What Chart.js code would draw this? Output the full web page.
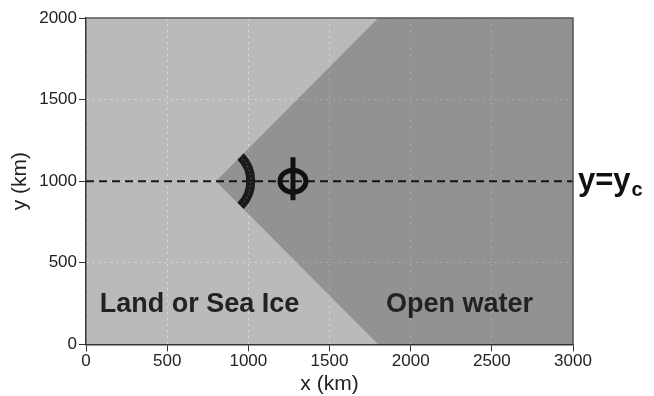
<!DOCTYPE html>
<html>
<head>
<meta charset="utf-8">
<script src="https://cdn.jsdelivr.net/npm/chart.js@4.4.0/dist/chart.umd.min.js"></script>
<style>
  body { margin: 0; background: #fff; }
  #wrap { width: 654px; height: 396px; }
</style>
</head>
<body>
<div id="wrap"><canvas id="domain" width="654" height="396"></canvas></div>
<script>
// axis ticks (km)
var xTicks = [0, 500, 1000, 1500, 2000, 2500, 3000];
var yTicks = [0, 500, 1000, 1500, 2000];

// open water wedge outline
var waterX = [3000, 1800, 800, 1800, 3000];
var waterY = [0, 0, 1000, 2000, 2000];

// y = yc line
var yc = 1000;
var lineX = [0, 3000];

// arc at the ice edge tip, and phi marker
var arcCenter = [800, 1000];
var arcRadius = 215;
var arcSpanDeg = 45;
var phiX = 1275;

// region labels
var labelText = ['Land or Sea Ice', 'Open water'];
var labelX = [699, 2301];
var labelY = [245, 245];

var FONT = "'Liberation Sans', Arial, sans-serif";

var deco = {
    id: 'deco',
    beforeDraw: function(chart) {
        var a = chart.chartArea, c = chart.ctx;
        c.save();
        c.fillStyle = '#bababd';
        c.fillRect(a.left, a.top, a.right - a.left, a.bottom - a.top);
        c.restore();
    },
    afterDatasetsDraw: function(chart) {
        var c = chart.ctx, xs = chart.scales.x, ys = chart.scales.y, a = chart.chartArea;
        c.save();
        // arc
        var cx = xs.getPixelForValue(arcCenter[0]);
        var cy = ys.getPixelForValue(arcCenter[1]);
        var r = xs.getPixelForValue(arcCenter[0] + arcRadius) - cx;
        var sp = arcSpanDeg * Math.PI / 180;
        c.beginPath();
        c.arc(cx, cy, r, -sp, sp);
        c.strokeStyle = '#1a1a1a';
        c.lineWidth = 9;
        c.stroke();
        c.beginPath();
        c.arc(cx, cy, r, -sp, sp);
        c.setLineDash([1, 3]);
        c.strokeStyle = 'rgba(255,255,255,0.45)';
        c.lineWidth = 1;
        c.stroke();
        c.setLineDash([]);

        // phi
        var px = xs.getPixelForValue(phiX);
        var py = ys.getPixelForValue(yc);
        c.strokeStyle = '#111';
        c.lineWidth = 5;
        c.beginPath();
        c.ellipse(px, py, 13, 11, 0, 0, Math.PI * 2);
        c.stroke();
        c.beginPath();
        c.moveTo(px, py - 24);
        c.lineTo(px, py + 19);
        c.stroke();

        // labels
        c.fillStyle = '#222';
        c.font = 'bold 27px ' + FONT;
        c.textAlign = 'center';
        c.textBaseline = 'middle';
        for (var i = 0; i < labelText.length; i++) {
            c.fillText(labelText[i], xs.getPixelForValue(labelX[i]), ys.getPixelForValue(labelY[i]));
        }

        // frame top/right
        c.strokeStyle = '#555';
        c.lineWidth = 1.5;
        c.beginPath();
        c.moveTo(a.left, a.top);
        c.lineTo(a.right, a.top);
        c.lineTo(a.right, a.bottom);
        c.stroke();

        // y = yc text
        c.fillStyle = '#111';
        c.textAlign = 'left';
        c.textBaseline = 'alphabetic';
        c.font = 'bold 31px ' + FONT;
        var tx = a.right + 5;
        c.fillText('y=y', tx, py + 9);
        var w = c.measureText('y=y').width;
        c.font = 'bold 20px ' + FONT;
        c.fillText('c', tx + w + 1, py + 15);
        c.restore();
    }
};

var gridStyle = { color: 'rgba(222,222,225,0.8)', tickColor: '#333', tickLength: 7, drawTicks: true };

var ctx = document.getElementById('domain').getContext('2d');
var chart = new Chart(ctx, {
    type: 'scatter',
    data: {
        datasets: [{
            label: 'Open water',
            data: waterX.map(function(v, i) { return {x: v, y: waterY[i]}; }),
            showLine: true,
            fill: 'shape',
            backgroundColor: 'rgba(0,0,0,0.21)',
            borderWidth: 0,
            pointRadius: 0,
            tension: 0
        }, {
            label: 'y = yc',
            data: lineX.map(function(v) { return {x: v, y: yc}; }),
            showLine: true,
            fill: false,
            borderColor: '#1a1a1a',
            borderWidth: 2,
            borderDash: [8, 5],
            pointRadius: 0
        }]
    },
    options: {
        responsive: false,
        animation: false,
        layout: { padding: { left: 8, right: 81, top: 18, bottom: -1 } },
        plugins: {
            legend: { display: false },
            tooltip: { enabled: false }
        },
        scales: {
            x: {
                type: 'linear',
                min: 0, max: 3000,
                afterBuildTicks: function(s) { s.ticks = xTicks.map(function(v) { return {value: v}; }); },
                grid: gridStyle,
                border: { display: true, color: '#333', width: 1.5, dash: [2, 4] },
                ticks: { color: '#222', font: { family: FONT, size: 17 }, padding: 0, maxRotation: 0,
                         callback: function(v) { return String(v); } },
                title: { display: true, text: 'x (km)', color: '#222', font: { family: FONT, size: 21 }, padding: { top: 0, bottom: 0 } }
            },
            y: {
                type: 'linear',
                min: 0, max: 2000,
                afterBuildTicks: function(s) { s.ticks = yTicks.map(function(v) { return {value: v}; }); },
                grid: gridStyle,
                border: { display: true, color: '#333', width: 1.5, dash: [2, 4] },
                ticks: { color: '#222', font: { family: FONT, size: 17 }, padding: 2,
                         callback: function(v) { return String(v); } },
                title: { display: true, text: 'y (km)', color: '#222', font: { family: FONT, size: 21 }, padding: { top: 0, bottom: 4 } }
            }
        }
    },
    plugins: [deco]
});
</script>
</body>
</html>
